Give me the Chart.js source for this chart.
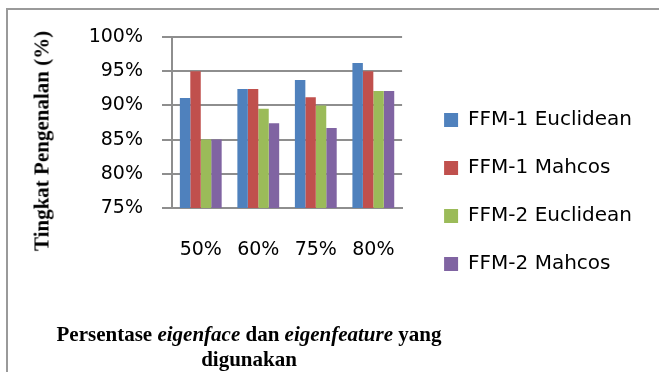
<!DOCTYPE html>
<html>
<head>
<meta charset="utf-8">
<script src="https://cdn.jsdelivr.net/npm/chart.js@4"></script>
<style>
  html, body { margin: 0; padding: 0; background: #fff; }
  #wrap { position: relative; width: 659px; height: 372px; overflow: hidden; }
  #frame { position: absolute; left: 6px; top: 8px; width: 700px; height: 400px;
           border-top: 2px solid #9a9a9a; border-left: 2px solid #9a9a9a; }
  #chart { position: absolute; left: 0; top: 0; }
  .ttl { position: absolute; font-family: "Liberation Serif", serif; font-weight: bold;
         font-size: 21px; color: #000; white-space: nowrap; }
  #ytitle { left: 42px; top: 141px; transform: translate(-50%, -50%) rotate(-90deg); }
  #xtitle { left: 249px; top: 322px; transform: translateX(-50%); text-align: center; line-height: 25px; }
</style>
</head>
<body>
<div id="wrap">
  <div id="frame"></div>
  <canvas id="chart" width="659" height="372"></canvas>
  <div id="ytitle" class="ttl">Tingkat Pengenalan (%)</div>
  <div id="xtitle" class="ttl">Persentase <i>eigenface</i> dan <i>eigenfeature</i> yang<br>digunakan</div>
</div>
<script>
// data
const categories = ['50%', '60%', '75%', '80%'];
const seriesNames = ['FFM-1 Euclidean', 'FFM-1 Mahcos', 'FFM-2 Euclidean', 'FFM-2 Mahcos'];
const ffm1Euclidean = [91.1, 92.4, 93.7, 96.2];
const ffm1Mahcos = [95.0, 92.4, 91.2, 95.0];
const ffm2Euclidean = [85.0, 89.5, 90.0, 92.1];
const ffm2Mahcos = [85.0, 87.4, 86.7, 92.1];
const yTicks = [75, 80, 85, 90, 95, 100];

const colors = ['#4F81BD', '#C0504D', '#9BBB59', '#8064A2'];
const values = [ffm1Euclidean, ffm1Mahcos, ffm2Euclidean, ffm2Mahcos];

const gridColor = '#8e8e8e';
const tickFont = { family: 'DejaVu Sans', size: 19 };

const ctx = document.getElementById('chart').getContext('2d');
const chart = new Chart(ctx, {
    type: 'bar',
    data: {
        labels: categories,
        datasets: seriesNames.map((name, i) => ({
            label: name,
            data: values[i],
            backgroundColor: colors[i],
            borderWidth: 0,
            categoryPercentage: 0.727,
            barPercentage: 1.0
        }))
    },
    options: {
        responsive: false,
        animation: false,
        layout: {
            padding: { top: 37, bottom: 25, left: 78, right: 17 }
        },
        plugins: {
            legend: {
                position: 'right',
                align: 'center',
                maxWidth: 260,
                labels: {
                    boxWidth: 14,
                    boxHeight: 14,
                    padding: 28,
                    color: '#000',
                    font: { family: 'DejaVu Sans', size: 20 }
                }
            },
            tooltip: { enabled: false }
        },
        scales: {
            x: {
                grid: { display: false, drawTicks: false },
                border: { display: true, color: gridColor, width: 2 },
                ticks: { color: '#000', font: tickFont, padding: 31 },
                afterFit: (scale) => { scale.height = 139; }
            },
            y: {
                min: 75,
                max: 100,
                afterBuildTicks: (scale) => { scale.ticks = yTicks.map(v => ({ value: v })); },
                grid: { color: gridColor, lineWidth: 2, tickLength: 10, tickColor: gridColor },
                border: { display: true, color: gridColor, width: 2 },
                ticks: {
                    color: '#000',
                    font: tickFont,
                    padding: 19,
                    callback: (v) => v + '%'
                }
            },
            gap: {
                position: 'right',
                display: true,
                grid: { display: false, drawTicks: false },
                border: { display: false },
                ticks: { display: false },
                afterFit: (scale) => { scale.width = 14; }
            }
        }
    }
});
</script>
</body>
</html>
